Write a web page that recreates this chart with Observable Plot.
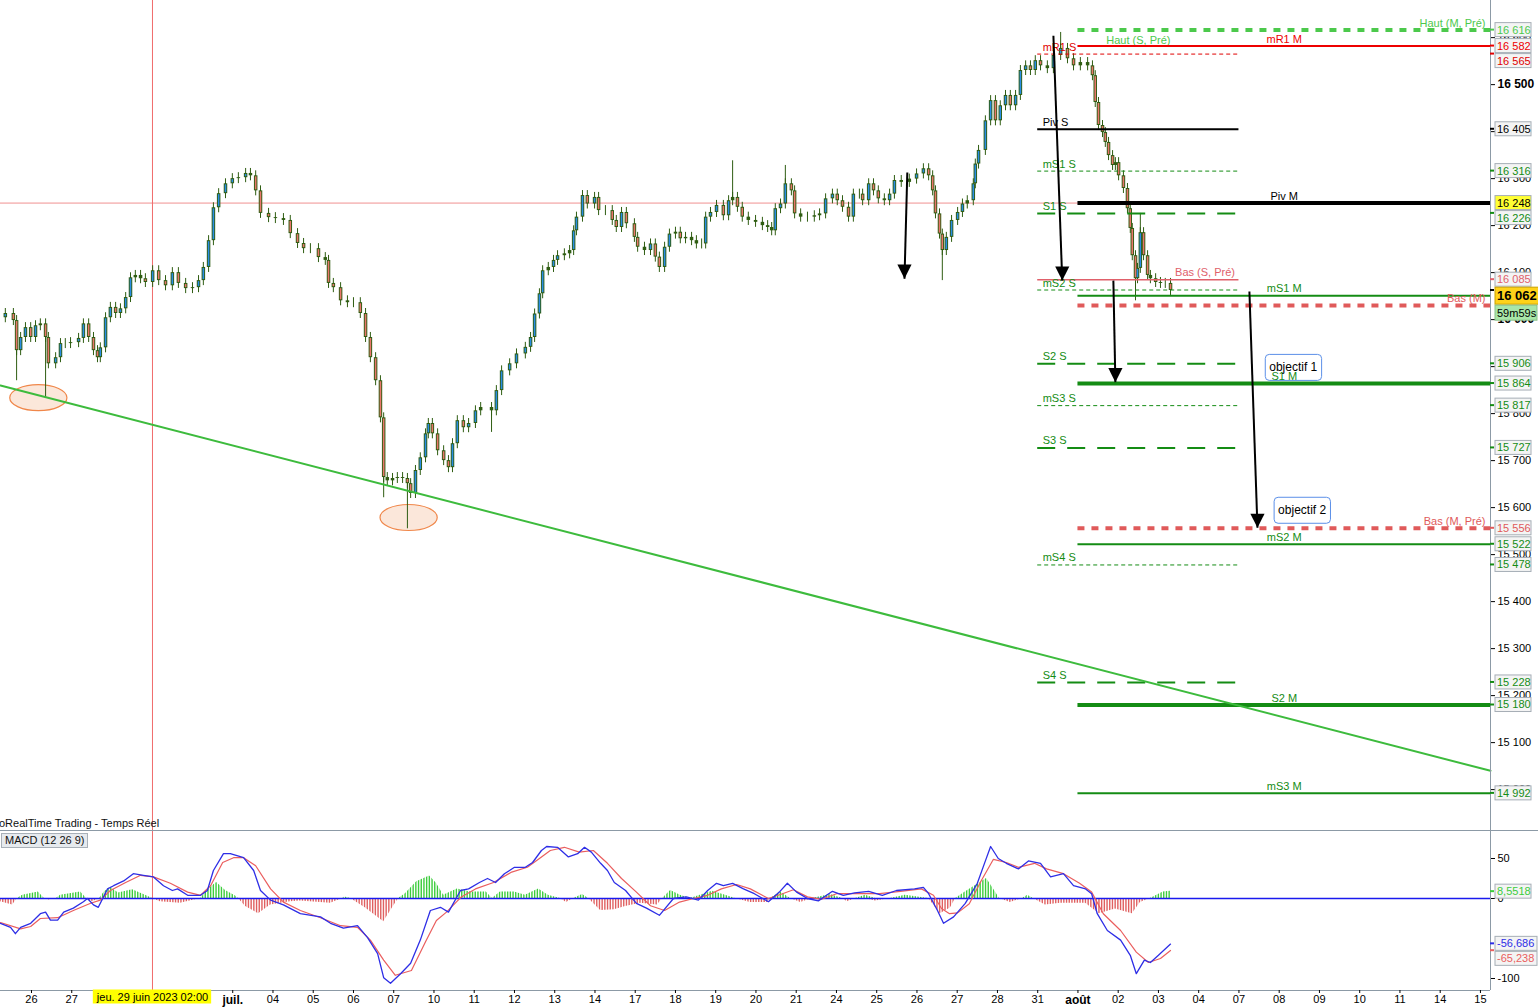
<!DOCTYPE html>
<html><head><meta charset="utf-8">
<script src="https://cdn.jsdelivr.net/npm/d3@7"></script>
<script src="https://cdn.jsdelivr.net/npm/@observablehq/plot@0.6"></script>
<style>
body{margin:0;background:#fff;font-family:'Liberation Sans',Arial,sans-serif;}
#wrap{position:relative;width:1538px;height:1008px;overflow:hidden;background:#fff;}
#wrap svg{display:block;}
.sep{position:absolute;left:0;top:830px;width:1538px;height:1px;background:#8c9aa6;}
.src{position:absolute;left:-12px;top:817px;font-size:11px;color:#111;white-space:nowrap;}
.macdtag{position:absolute;left:1px;top:833px;font-size:11px;line-height:13px;padding:0 3px;background:#e6eaee;border:1px solid #a8b0b8;color:#111;}
</style></head><body>
<div id="wrap"><div id="main"></div><div id="macd"></div>
<div class="sep"></div>
<div class="src">ProRealTime Trading - Temps Réel</div>
<div class="macdtag">MACD (12 26 9)</div>
</div>
<script>
// ---------- DATA ----------
// time = trading-day index (0 = 26 juin), value = index points
const dayLabels = ["26","27","28","29","30","juil.","04","05","06","07","10","11","12","13","14","17","18","19","20","21","24","25","26","27","28","31","août","02","03","04","07","08","09","10","11","14","15"];
const boldDays = ["juil.","août"];
const hiddenDays = [2,3,4];

const priceSeries = [[-0.77,16004],[-0.65,16013],[-0.45,15998],[-0.37,15934],[-0.27,15962],[-0.15,15983],[-0.02,15962],[0.10,15987],[0.22,15991],[0.35,15962],[0.42,15906],[0.60,15919],[0.72,15949],[0.84,15949],[0.97,15951],[1.17,15960],[1.29,15991],[1.42,15962],[1.54,15934],[1.64,15919],[1.71,15940],[1.84,16004],[1.96,16026],[2.09,16013],[2.21,16023],[2.34,16047],[2.46,16089],[2.58,16094],[2.71,16087],[2.83,16079],[3.01,16104],[3.16,16083],[3.33,16072],[3.50,16100],[3.65,16077],[3.83,16066],[4.00,16068],[4.15,16083],[4.27,16111],[4.40,16168],[4.52,16238],[4.65,16268],[4.82,16289],[4.99,16300],[5.14,16302],[5.32,16311],[5.44,16306],[5.57,16274],[5.69,16226],[5.89,16217],[6.06,16215],[6.26,16211],[6.43,16183],[6.61,16162],[6.76,16151],[6.93,16151],[7.13,16132],[7.30,16126],[7.38,16077],[7.50,16068],[7.68,16040],[7.85,16036],[8.00,16036],[8.17,16013],[8.30,15962],[8.42,15919],[8.55,15870],[8.67,15791],[8.75,15664],[8.84,15657],[8.97,15662],[9.09,15664],[9.22,15662],[9.34,15651],[9.42,15630],[9.54,15679],[9.66,15706],[9.79,15757],[9.86,15779],[9.96,15757],[10.09,15721],[10.24,15700],[10.36,15685],[10.46,15736],[10.58,15785],[10.73,15770],[10.86,15779],[11.03,15806],[11.16,15813],[11.43,15806],[11.55,15849],[11.68,15891],[11.88,15906],[12.05,15927],[12.27,15941],[12.40,15962],[12.50,16012],[12.62,16055],[12.70,16104],[12.84,16111],[12.97,16126],[13.07,16136],[13.24,16140],[13.37,16147],[13.47,16189],[13.54,16218],[13.69,16264],[13.81,16246],[13.99,16260],[14.09,16232],[14.26,16232],[14.43,16211],[14.53,16196],[14.66,16228],[14.78,16204],[14.98,16175],[15.06,16154],[15.23,16147],[15.38,16161],[15.50,16133],[15.60,16111],[15.73,16154],[15.85,16182],[16.00,16186],[16.12,16172],[16.25,16175],[16.40,16168],[16.52,16161],[16.65,16161],[16.75,16218],[16.87,16228],[17.02,16243],[17.19,16221],[17.32,16253],[17.42,16260],[17.54,16239],[17.66,16218],[17.81,16211],[17.99,16207],[18.16,16200],[18.29,16196],[18.39,16189],[18.48,16236],[18.61,16246],[18.73,16289],[18.88,16274],[18.96,16225],[19.11,16218],[19.28,16218],[19.45,16221],[19.58,16225],[19.73,16257],[19.90,16267],[20.02,16253],[20.15,16239],[20.30,16218],[20.42,16267],[20.57,16267],[20.65,16253],[20.80,16289],[20.92,16274],[21.04,16257],[21.19,16253],[21.32,16267],[21.44,16296],[21.61,16292],[21.81,16299],[21.99,16310],[22.16,16321],[22.29,16306],[22.39,16274],[22.46,16225],[22.56,16182],[22.63,16147],[22.73,16175],[22.86,16211],[23.01,16228],[23.13,16246],[23.25,16253],[23.40,16289],[23.45,16331],[23.53,16360],[23.70,16423],[23.83,16466],[23.95,16423],[24.07,16455],[24.20,16477],[24.32,16455],[24.45,16477],[24.57,16530],[24.70,16540],[24.82,16530],[24.94,16551],[25.07,16540],[25.24,16534],[25.39,16562],[25.57,16577],[25.74,16555],[25.89,16540],[26.06,16547],[26.24,16540],[26.36,16519],[26.43,16462],[26.51,16413],[26.61,16398],[26.68,16377],[26.76,16349],[26.86,16328],[26.93,16334],[27.01,16306],[27.13,16279],[27.23,16236],[27.30,16194],[27.35,16136],[27.43,16087],[27.48,16109],[27.55,16185],[27.63,16136],[27.73,16094],[27.80,16087],[27.93,16079],[28.05,16077],[28.17,16077],[28.30,16062]];
// extreme wicks: [time, extreme]
const wickExtremes = [[-0.37,15870],[0.35,15834],[8.75,15621],[9.34,15555],[11.43,15760],[17.42,16338],[18.73,16328],[22.63,16083],[25.57,16611],[27.43,16040],[27.55,16226]];

// weekly pivot levels (31 juil -> 04 août)
const weeklyNames = ["mR1 S","Piv S","mS1 S","S1 S","mS2 S","S2 S","mS3 S","S3 S","mS4 S","S4 S","Bas (S, Pré)","Haut (S, Pré)"];
const weeklyValues = [16565,16405,16316,16226,16063,15906,15817,15727,15478,15228,16085,16580];
const weeklyKinds = ["mR","piv","m","S","m","S","m","S","m","S","bas","haut"];
const weeklySpan = [25, 30];
// monthly pivot levels
const monthlyNames = ["Haut (M, Pré)","mR1 M","Piv M","mS1 M","Bas (M)","S1 M","Bas (M, Pré)","mS2 M","S2 M","mS3 M"];
const monthlyValues = [16616,16582,16248,16051,16030,15864,15556,15522,15180,14992];
const monthlyKinds = ["haut","mR","piv","m","bas","S","bas","m","S","m"];
const monthlySpan = [26, 36.25];

const axisBoxValues = [16616,16582,16565,16405,16316,16226,16085,15906,15864,15817,15727,15556,15522,15478,15228,15180,14992];
const lastPrice = 16062;
const timerLabel = "59m59s";
const crossT = 3.006, crossV = 16248;
const crossLabel = "jeu. 29 juin 2023 02:00";

const trendLine = [[-0.77,15860],[36.25,15040]];
const circled = [[0.17,15834],[9.37,15579]];
const arrowList = [[25.39,16604,25.61,16083],[21.76,16313,21.69,16087],[26.88,16083,26.93,15867],[30.26,16060,30.46,15557]];
const objectifs = [["objectif 1",31.35,15898],["objectif 2",31.57,15594]];

const macdSeries = [[-0.77,-31],[-0.52,-36],[-0.40,-44],[-0.27,-36],[-0.02,-31],[0.22,-19],[0.35,-17],[0.47,-27],[0.65,-27],[0.80,-17],[1.04,-12],[1.29,-4],[1.39,0],[1.54,-8],[1.66,-11],[1.89,12],[2.04,16],[2.29,22],[2.53,31],[2.78,29],[3.03,27],[3.28,16],[3.50,10],[3.63,12],[3.88,4],[4.20,4],[4.37,10],[4.52,35],[4.77,56],[4.94,56],[5.27,51],[5.52,35],[5.69,10],[5.94,-2],[6.26,-8],[6.68,-19],[7.18,-23],[7.43,-31],[7.75,-37],[8.10,-34],[8.35,-49],[8.60,-69],[8.75,-99],[8.92,-106],[9.17,-94],[9.42,-81],[9.66,-52],[9.91,-15],[10.16,-11],[10.36,-17],[10.66,10],[10.86,12],[11.13,20],[11.33,25],[11.53,20],[11.75,31],[12.00,39],[12.27,39],[12.45,45],[12.67,60],[12.80,65],[13.07,64],[13.34,52],[13.57,56],[13.74,64],[13.91,58],[14.14,44],[14.31,35],[14.48,20],[14.76,10],[15.03,-6],[15.28,-12],[15.60,-21],[15.95,0],[16.27,2],[16.57,-2],[16.80,10],[17.02,19],[17.19,16],[17.42,19],[17.69,12],[17.96,6],[18.31,-4],[18.58,8],[18.78,19],[19.01,8],[19.28,0],[19.55,-3],[19.90,9],[20.17,4],[20.45,7],[20.80,9],[21.14,4],[21.49,10],[21.94,12],[22.16,14],[22.29,6],[22.51,-15],[22.66,-31],[22.91,-23],[23.20,-6],[23.50,19],[23.70,47],[23.83,65],[24.02,50],[24.22,44],[24.52,37],[24.77,47],[25.07,44],[25.32,27],[25.64,31],[25.89,16],[26.19,12],[26.34,6],[26.48,-19],[26.73,-40],[27.06,-52],[27.30,-71],[27.45,-94],[27.65,-77],[27.80,-80],[28.00,-71],[28.30,-57]];
const signalSeries = [[-0.77,-30],[-0.27,-38],[-0.02,-35],[0.22,-25],[0.65,-24],[1.04,-15],[1.47,-6],[1.71,-2],[1.96,10],[2.34,20],[2.71,29],[3.03,27],[3.45,19],[3.88,8],[4.20,4],[4.45,16],[4.75,45],[5.02,51],[5.27,51],[5.57,41],[5.94,12],[6.26,-4.5],[6.68,-15],[7.18,-24],[7.68,-34],[8.10,-36],[8.42,-52],[8.75,-77],[9.04,-96],[9.44,-90],[9.79,-54],[10.06,-27.5],[10.31,-17],[10.68,2],[11.03,12],[11.48,20],[11.93,33],[12.32,39],[12.62,50],[12.89,60],[13.24,64],[13.61,58],[13.96,60],[14.31,44],[14.66,25],[15.03,8],[15.38,-9],[15.73,-15],[16.10,-4.5],[16.45,0],[16.80,4],[17.14,12],[17.52,17.5],[17.86,12],[18.31,0],[18.66,6],[18.93,11],[19.28,2],[19.63,-1],[20.00,6],[20.52,6],[21.07,6],[21.59,9],[22.11,12],[22.41,4],[22.61,-12.5],[22.81,-19],[23.01,-18],[23.30,-6.5],[23.60,22.5],[23.90,49],[24.22,45],[24.52,39],[24.92,44],[25.22,37],[25.64,31],[26.04,19],[26.34,8],[26.63,-19],[27.06,-40],[27.45,-67],[27.75,-80],[28.05,-75],[28.30,-65]];
const histSeries = [[-0.77,-4],[-0.47,-8],[-0.35,0],[-0.22,4],[0.17,8],[0.32,0],[0.42,-2],[0.62,0],[0.72,4],[1.22,8],[1.37,0],[1.52,-4],[1.69,0],[1.81,8],[1.96,14],[2.16,7],[2.51,11],[2.83,4],[3.01,0],[3.20,-4],[3.70,-6],[4.20,0],[4.40,12],[4.60,20],[4.82,10],[5.07,3],[5.14,0],[5.32,-10],[5.64,-19],[5.94,-8],[6.43,-4],[6.68,-3],[7.43,-6],[7.73,0],[7.78,2],[7.93,0],[8.30,-12],[8.75,-29],[8.99,-10],[9.12,0],[9.29,6],[9.57,21],[9.89,28],[10.06,19],[10.24,4],[10.58,12],[10.91,8],[11.30,8],[11.45,0],[11.65,8],[12.00,8],[12.27,4],[12.60,12],[12.84,4],[13.14,0],[13.29,-5],[13.47,0],[13.69,5],[13.84,0],[14.14,-15],[14.48,-14],[14.76,-10],[15.13,-6],[15.55,-8],[15.68,0],[15.88,10],[16.12,4],[16.37,0],[16.92,9],[17.24,4],[17.49,0],[17.86,-5],[18.31,-5],[18.36,0],[18.61,8],[18.86,0],[19.11,-5],[19.40,0],[19.85,5],[20.15,0],[20.27,-4],[20.47,0],[20.72,4],[20.97,-3],[21.34,0],[21.71,4],[22.29,0],[22.58,-19],[22.83,-12],[22.96,0],[23.20,8],[23.73,25],[23.95,8],[24.05,0],[24.32,-5],[24.62,0],[24.75,4],[24.89,0],[25.19,-8],[25.57,-6],[26.19,-6],[26.53,-19],[26.93,-13],[27.35,-19],[27.55,-5],[27.80,0],[28.12,8],[28.30,9]];
const macdReadout = {hist: 8.5518, macd: -56.686, signal: -65.238};
const macdTicks = [50, 0, -100];
const priceTicks = d3.range(15000, 16700, 100);
const majorTicks = [16500, 16000];

// ---------- STYLE / LAYOUT ----------
const W = 1538;
const FONT = "'Liberation Sans', Arial, sans-serif";
const xDomain = [-0.77, 36.25];
const yDomain = [14913, 16679];
const mDomain = [-115, 85];
const GREEN = "#148c14", RED = "#e00000", PINK = "#e0606a", LGREEN = "#4cc94c";
const WICK = "#2f5d12", UP = "#2a8de4", DOWN = "#e8766c";
const HIST_POS = "#3ccc3c", HIST_NEG = "#e06060";
const weekStyle = {
  mR: {stroke: RED, w: 1, dash: "4,3"},
  piv: {stroke: "#000", w: 2},
  m: {stroke: GREEN, w: 1, dash: "4,3"},
  S: {stroke: GREEN, w: 2, dash: "18,12"},
  bas: {stroke: PINK, w: 1.5},
  haut: {stroke: LGREEN, w: 0}
};
const monthStyle = {
  haut: {stroke: LGREEN, w: 4, dash: "7,7"},
  mR: {stroke: "#ee0000", w: 2},
  piv: {stroke: "#000", w: 4},
  m: {stroke: GREEN, w: 2},
  bas: {stroke: "#e05a5a", w: 4, dash: "7,7"},
  S: {stroke: GREEN, w: 4}
};

const fr = d3.formatLocale({decimal: ",", thousands: "\u00a0", grouping: [3], currency: ["", "€"], minus: "-"});
const fmtPrice = fr.format(",d");
const fmtDec = v => String(v).replace(".", ",");

const price = priceSeries.map(([t, v]) => ({t, v}));
const candles = price.slice(1).map((d, i) => ({t: d.t, o: price[i].v, c: d.v}));
const wicks = wickExtremes.map(([t, v]) => ({t, v0: price.find(p => p.t === t).v, v1: v}));
const weekly = weeklyNames.map((name, i) => ({name, v: weeklyValues[i], kind: weeklyKinds[i]}));
const monthly = monthlyNames.map((name, i) => ({name, v: monthlyValues[i], kind: monthlyKinds[i]}));
const trend = trendLine.map(([t, v]) => ({t, v}));
const ellipses = circled.map(([t, v]) => ({t, v}));
const arrows = arrowList.map(([t1, v1, t2, v2]) => ({t1, v1, t2, v2}));
const objs = objectifs.map(([label, t, v]) => ({label, t, v}));
const macd = macdSeries.map(([t, v]) => ({t, v}));
const signal = signalSeries.map(([t, v]) => ({t, v}));
const histPos = histSeries.map(([t, h]) => ({t, h: Math.max(0, h)}));
const histNeg = histSeries.map(([t, h]) => ({t, h: Math.min(0, h)}));

const ellipseSymbol = {draw(ctx, size) {
  const r = Math.sqrt(size / Math.PI), rx = r * 2.2, ry = r, k = 0.5523;
  ctx.moveTo(rx, 0);
  ctx.bezierCurveTo(rx, ry * k, rx * k, ry, 0, ry);
  ctx.bezierCurveTo(-rx * k, ry, -rx, ry * k, -rx, 0);
  ctx.bezierCurveTo(-rx, -ry * k, -rx * k, -ry, 0, -ry);
  ctx.bezierCurveTo(rx * k, -ry, rx, -ry * k, rx, 0);
  ctx.closePath();
}};
const headSymbol = {draw(ctx, size) {
  const s = Math.sqrt(size);
  ctx.moveTo(0, 0); ctx.lineTo(-s / 2, -s); ctx.lineTo(s / 2, -s); ctx.closePath();
}};

function levelMarks(levels, span, styles, labelMode) {
  const out = [];
  for (const [kind, s] of Object.entries(styles)) {
    const data = levels.filter(d => d.kind === kind);
    if (!data.length || !s.w) continue;
    out.push(Plot.ruleY(data, {y: "v", x1: () => span[0], x2: () => span[1], stroke: s.stroke, strokeWidth: s.w, strokeDasharray: s.dash}));
  }
  for (const d of levels) {
    const s = styles[d.kind];
    let opts;
    const edge = d.kind === "haut" || d.kind === "bas";
    if (labelMode === "week") {
      if (d.kind === "bas") opts = {x: () => span[1], dx: -4, textAnchor: "end"};
      else if (d.kind === "haut") opts = {x: () => (span[0] + span[1]) / 2, textAnchor: "middle"};
      else opts = {x: () => span[0], dx: 5, textAnchor: "start"};
    } else {
      opts = edge ? {x: () => span[1], dx: -5, textAnchor: "end"} : {x: () => (span[0] + span[1]) / 2, textAnchor: "middle"};
    }
    out.push(Plot.text([d], {...opts, y: "v", text: "name", dy: -7, fill: s.stroke, fontSize: 11}));
  }
  return out;
}

function colorFor(v) {
  const m = monthly.find(d => d.v === v); if (m) return monthStyle[m.kind].stroke;
  const w = weekly.find(d => d.v === v); if (w) return weekStyle[w.kind].stroke;
  return "#000";
}

const baseStyle = {fontFamily: FONT, fontSize: "11px", background: "#fff", color: "#000", overflow: "visible"};

const mainChart = Plot.plot({
  width: W, height: 830, marginLeft: 0, marginRight: 48, marginTop: 0, marginBottom: 0,
  style: baseStyle,
  x: {domain: xDomain, axis: null},
  y: {domain: yDomain},
  color: {type: "identity"},
  marks: [
    Plot.axisY({anchor: "right", ticks: priceTicks.filter(d => !majorTicks.includes(d)), tickSize: 4, tickPadding: 3, tickFormat: fmtPrice, fontSize: 11, label: null}),
    Plot.axisY({anchor: "right", ticks: majorTicks, tickSize: 4, tickPadding: 3, tickFormat: fmtPrice, fontSize: 12, fontWeight: "bold", label: null}),
    Plot.ruleY([crossV], {stroke: "#f09090", strokeWidth: 1}),
    Plot.ruleX([crossT], {stroke: "#f06b6b", strokeWidth: 1}),
    Plot.dot(ellipses, {x: "t", y: "v", r: 13, symbol: ellipseSymbol, fill: "#fbe7da", stroke: "#f0874a", strokeWidth: 1.2}),
    Plot.ruleX(wicks, {x: "t", y1: "v0", y2: "v1", stroke: WICK, strokeWidth: 1}),
    Plot.ruleX(candles, {x: "t", y1: d => Math.max(d.o, d.c), y2: d => Math.min(d.o, d.c), stroke: WICK, strokeWidth: 1, insetTop: -5, insetBottom: -5}),
    Plot.ruleX(candles, {x: "t", y1: d => Math.max(d.o, d.c), y2: d => Math.min(d.o, d.c), stroke: WICK, strokeWidth: 3.5}),
    Plot.ruleX(candles.filter(d => Math.abs(d.c - d.o) >= 8), {x: "t", y1: d => Math.max(d.o, d.c), y2: d => Math.min(d.o, d.c), stroke: d => d.c > d.o ? UP : DOWN, strokeWidth: 1.6, insetTop: 1, insetBottom: 1}),
    ...levelMarks(weekly, weeklySpan, weekStyle, "week"),
    ...levelMarks(monthly, monthlySpan, monthStyle, "month"),
    Plot.line(trend, {x: "t", y: "v", stroke: "#3dbb3d", strokeWidth: 2}),
    Plot.link(arrows, {x1: "t1", y1: "v1", x2: "t2", y2: "v2", stroke: "#000", strokeWidth: 2, insetBottom: 6}),
    Plot.dot(arrows, {x: "t2", y: "v2", symbol: headSymbol, r: 8, fill: "#000", stroke: "none"}),
    Plot.text(objs, {x: "t", y: "v", text: "label", fontSize: 12, fill: "#000"}),
    Plot.ruleX([xDomain[1]], {stroke: "#8c9aa6"})
  ]
});

const macdChart = Plot.plot({
  width: W, height: 178, marginLeft: 0, marginRight: 48, marginTop: 0, marginBottom: 18,
  style: baseStyle,
  x: {domain: xDomain},
  y: {domain: mDomain},
  color: {type: "identity"},
  marks: [
    Plot.areaY(histPos, {x: "t", y: "h", fill: HIST_POS}),
    Plot.areaY(histNeg, {x: "t", y: "h", fill: HIST_NEG}),
    Plot.ruleX([crossT], {stroke: "#f06b6b", strokeWidth: 1}),
    Plot.ruleY([0], {stroke: "#1a1aee", strokeWidth: 1.3}),
    Plot.line(signal, {x: "t", y: "v", stroke: "#ea5e5e", strokeWidth: 1.2}),
    Plot.line(macd, {x: "t", y: "v", stroke: "#2e2ee6", strokeWidth: 1.3}),
    Plot.ruleY([mDomain[0]], {stroke: "#8c9aa6"}),
    Plot.ruleX([xDomain[1]], {stroke: "#8c9aa6"}),
    Plot.axisY({anchor: "right", ticks: macdTicks, tickSize: 4, tickPadding: 3, tickFormat: d => String(d), fontSize: 11, label: null}),
    Plot.axisX({anchor: "bottom", ticks: d3.range(dayLabels.length).filter(i => !hiddenDays.includes(i) && !boldDays.includes(dayLabels[i])), tickFormat: i => dayLabels[i], tickSize: 3, tickPadding: 2, fontSize: 11, label: null}),
    Plot.axisX({anchor: "bottom", ticks: d3.range(dayLabels.length).filter(i => boldDays.includes(dayLabels[i])), tickFormat: i => dayLabels[i], tickSize: 3, tickPadding: 2, fontSize: 12, fontWeight: "bold", label: null}),
    Plot.text([crossLabel], {x: () => crossT, frameAnchor: "bottom", dy: 10, text: d => d, fontSize: 11, fill: "#000"})
  ]
});

document.getElementById("main").appendChild(mainChart);
document.getElementById("macd").appendChild(macdChart);

const NS = "http://www.w3.org/2000/svg";
function boxify(svg, texts, {fill, stroke, rx = 0, padX = 4, padY = 3}) {
  svg.querySelectorAll("text").forEach(t => {
    if (!texts.includes(t.textContent)) return;
    const b = t.getBBox();
    const r = document.createElementNS(NS, "rect");
    r.setAttribute("x", b.x - padX); r.setAttribute("y", b.y - padY);
    r.setAttribute("width", b.width + 2 * padX); r.setAttribute("height", b.height + 2 * padY);
    r.setAttribute("fill", fill); r.setAttribute("stroke", stroke || "none"); r.setAttribute("rx", rx);
    if (t.getAttribute("transform")) r.setAttribute("transform", t.getAttribute("transform"));
    t.parentNode.insertBefore(r, t);
  });
}
try { boxify(mainChart, objs.map(d => d.label), {fill: "none", stroke: "#5b8fe8", rx: 4, padX: 4, padY: 6}); } catch (e) { console.log(e); }
try { boxify(macdChart, [crossLabel], {fill: "#ffff00", stroke: "none", padX: 3, padY: 1}); } catch (e) { console.log(e); }

// thin-bar look for the histogram: white gaps laid over the filled areas
try {
  const xs = macdChart.scale("x"), ys = macdChart.scale("y");
  const areas = Array.from(macdChart.querySelectorAll("g")).filter(g => g.getAttribute("fill") === HIST_NEG || g.getAttribute("fill") === HIST_POS);
  const after = areas[areas.length - 1];
  if (after) {
    const g = document.createElementNS(NS, "g");
    const yTop = ys.apply(40), yBot = ys.apply(-40), xEnd = xs.apply(xDomain[1]);
    for (let x = 1.4; x < xEnd; x += 2.7) {
      const l = document.createElementNS(NS, "line");
      l.setAttribute("x1", x); l.setAttribute("x2", x); l.setAttribute("y1", yTop); l.setAttribute("y2", yBot);
      l.setAttribute("stroke", "#fff"); l.setAttribute("stroke-width", 1.3);
      g.appendChild(l);
    }
    after.parentNode.insertBefore(g, after.nextSibling);
  }
} catch (e) { console.log(e); }

function rightLabels(chart, items) {
  const ys = chart.scale("y"), xs = chart.scale("x");
  const x0 = xs.apply(xDomain[1]);
  const g = d3.select(chart).append("g").attr("font-family", FONT).attr("text-anchor", "start");
  items.forEach(d => { d.py = ys.apply(d.v); d.ly = d.py; });
  const sorted = items.slice().sort((a, b) => a.py - b.py);
  for (let i = 1; i < sorted.length; i++) {
    const a = sorted[i - 1], b = sorted[i], gap = (a.h + b.h) / 2 + 1;
    if (b.ly < a.ly + gap) b.ly = a.ly + gap;
  }
  for (const d of sorted) {
    if (!d.noTick) g.append("line").attr("x1", x0).attr("x2", x0 + 4).attr("y1", d.py).attr("y2", d.py).attr("stroke", d.color).attr("stroke-width", 2);
    g.append("rect").attr("x", x0 + 5).attr("y", d.ly - d.h / 2).attr("width", d.w).attr("height", d.h).attr("fill", d.bg).attr("stroke", d.border || "#a6aeb6");
    g.append("text").attr("x", x0 + 7).attr("y", d.ly).attr("dy", "0.36em").attr("text-anchor", "start").attr("fill", d.color).attr("font-size", d.fs).attr("font-weight", d.bold ? "bold" : null).text(d.text);
  }
}

rightLabels(mainChart, [
  ...axisBoxValues.map(v => ({v, text: fmtPrice(v), color: colorFor(v), bg: "#f4f4f4", h: 14, w: 36, fs: 11})),
  {v: crossV, text: fmtPrice(crossV), color: "#000", bg: "#ffff33", h: 14, w: 36, fs: 11, noTick: true},
  {v: lastPrice, text: fmtPrice(lastPrice), color: "#000", bg: "#ffd21a", border: "#c8a000", h: 17, w: 46, fs: 13, bold: true},
  {v: lastPrice, text: timerLabel, color: "#000", bg: "#a8e6a8", border: "#88c088", h: 15, w: 42, fs: 11, noTick: true}
]);
rightLabels(macdChart, [
  {v: macdReadout.hist, text: fmtDec(macdReadout.hist), color: HIST_POS, bg: "#f4f4f4", h: 14, w: 36, fs: 11},
  {v: macdReadout.macd, text: fmtDec(macdReadout.macd), color: "#2e2ee6", bg: "#f4f4f4", h: 14, w: 42, fs: 11},
  {v: macdReadout.signal, text: fmtDec(macdReadout.signal), color: "#ea5e5e", bg: "#f4f4f4", h: 14, w: 42, fs: 11}
]);
</script>
</body></html>
